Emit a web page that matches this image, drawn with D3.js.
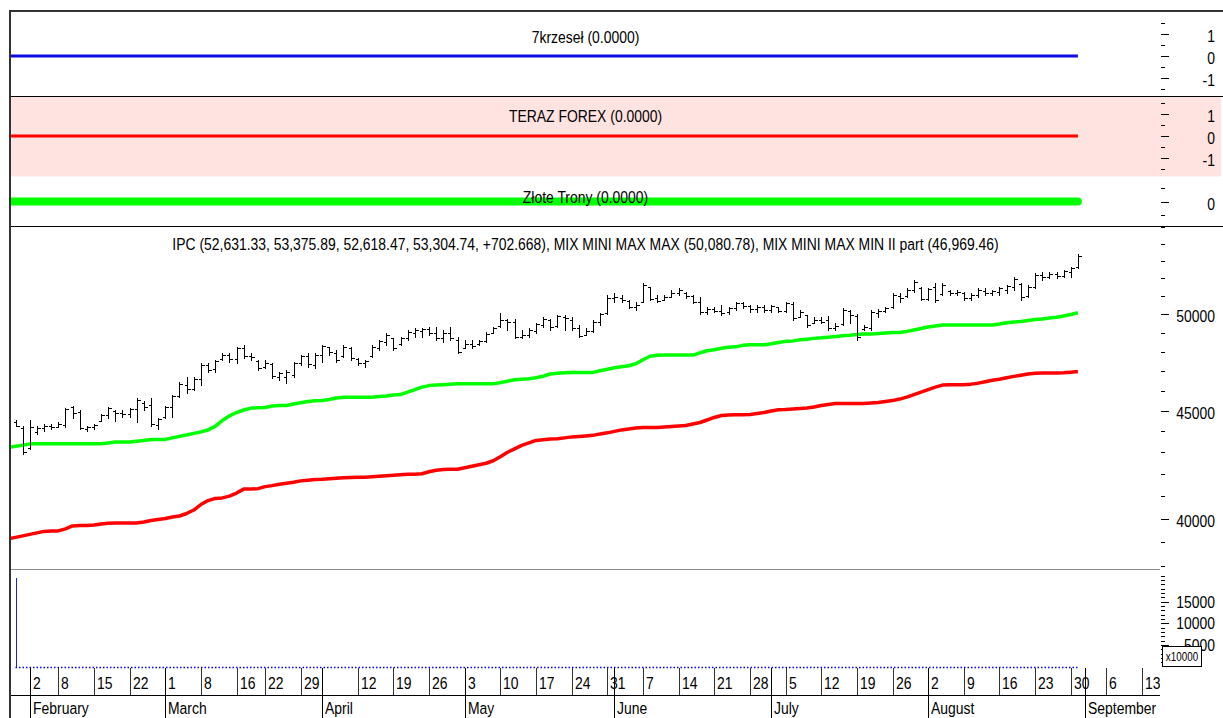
<!DOCTYPE html>
<html>
<head>
<meta charset="utf-8">
<title>IPC</title>
<script src="https://d3js.org/d3.v7.min.js"></script>
<style>
  body { margin: 0; background: #fff; }
  svg { display: block; }
</style>
</head>
<body>
<script>
// ---- data ----
const axisStart = "2021-01-25", axisEnd = "2021-09-14";
const holidays = ["2021-02-01", "2021-03-15", "2021-04-01", "2021-04-02"];
const unlabeledWeeks = ["2021-04-05"];
const firstBarDay = "2021-01-28";
const firstLineDay = "2021-01-27";

const opens = [
  44440, 44150, 43200, 43950, 44150, 44250, 44220, 44300, 45200, 44950,
  44100, 44200, 44500, 44800, 45000, 44900, 44850, 45100, 45400, 45300,
  44300, 44700, 45200, 45750, 46300, 46100, 46600, 47300, 47100, 47600,
  47850, 47600, 48200, 47800, 47500, 47200, 47350, 46700, 46700, 46800,
  47400, 47750, 47300, 47850, 48250, 47950, 47750, 48200, 47600, 47400,
  47800, 48200, 48500, 48700, 48400, 48700, 49000, 49100, 49200, 49000,
  48700, 49000, 48600, 48200, 48400, 48400, 48550, 49000, 49350, 49700,
  49600, 48800, 48900, 49100, 49400, 49700, 49350, 49850, 49700, 49250,
  48900, 49100, 49600, 50050, 50900, 50900, 50750, 50400, 50700, 51500,
  50900, 50800, 50950, 51200, 51200, 51000, 50700, 50150, 50300, 50200,
  50100, 50350, 50600, 50450, 50300, 50400, 50250, 50400, 50200, 50550,
  49850, 49950, 49550, 49700, 49700, 49250, 49450, 50200, 49900, 49200,
  49250, 50050, 50200, 50400, 51000, 51000, 51350, 51450, 50850, 51500,
  51100, 51300, 51150, 51150, 50900, 51050, 51300, 51150, 51250, 51350,
  51500, 51700, 51000, 51500, 52200, 52050, 52250, 52150, 52350, 52631.33
];
const highs = [
  44575, 44240, 44575, 44240, 44335, 44380, 44430, 45160, 45260, 45062,
  44240, 44335, 44820, 45210, 45062, 45062, 45160, 45650, 45460, 45650,
  44670, 45260, 45804, 46460, 46710, 46710, 47420, 47420, 47580, 47940,
  47940, 48250, 48360, 47940, 47580, 47580, 47420, 46960, 47065, 47480,
  47838, 47940, 47940, 48360, 48250, 48099, 48360, 48250, 47680, 47580,
  48360, 48624, 48990, 48730, 48780, 49155, 49260, 49260, 49310, 49310,
  49155, 49310, 48780, 48624, 48624, 48624, 49050, 49310, 50070, 49740,
  49740, 49155, 49260, 49530, 49850, 49740, 49960, 49960, 49850, 49420,
  49260, 49690, 50070, 51059, 51170, 51059, 50783, 50670, 51730, 51500,
  51059, 51059, 51337, 51450, 51230, 51059, 50950, 50400, 50400, 50508,
  50400, 50670, 50670, 50508, 50508, 50508, 50508, 50400, 50670, 50670,
  50234, 49962, 49850, 49850, 49900, 49530, 50340, 50234, 50020, 49420,
  50234, 50290, 50400, 51170, 51170, 51450, 51898, 51500, 51450, 51730,
  51730, 51337, 51337, 51230, 51170, 51450, 51450, 51337, 51500, 51617,
  52070, 51730, 51617, 52300, 52350, 52350, 52350, 52465, 52650, 53375.89
];
const lows = [
  44240, 42915, 43147, 43857, 44000, 44096, 44190, 44190, 44670, 44096,
  44000, 44096, 44480, 44670, 44480, 44720, 44720, 44430, 45062, 44240,
  44096, 44670, 44720, 45700, 45900, 46054, 46304, 46960, 46960, 47580,
  47480, 47420, 47680, 47580, 47065, 47170, 46660, 46556, 46400, 46710,
  47321, 47220, 47170, 47480, 47838, 47480, 47730, 47580, 47321, 47220,
  47730, 48099, 48360, 48099, 48360, 48624, 48780, 48780, 48888, 48624,
  48520, 48624, 47940, 48200, 48200, 48360, 48520, 48990, 49310, 49155,
  48730, 48730, 48780, 48990, 49310, 49155, 49310, 49155, 49155, 48780,
  48888, 49050, 49420, 50030, 50670, 50670, 50340, 50234, 50670, 50783,
  50670, 50783, 50950, 51059, 50890, 50620, 50030, 50030, 50120, 49962,
  50030, 50234, 50340, 50120, 50120, 50120, 50120, 50120, 50120, 49690,
  49850, 49310, 49530, 49530, 49155, 49155, 49420, 49530, 48624, 49155,
  49155, 49850, 50120, 50340, 50670, 50950, 51230, 50783, 50783, 50670,
  51059, 51059, 51059, 50783, 50783, 50950, 51059, 51059, 51059, 51170,
  51337, 50783, 50950, 51450, 51898, 52010, 52010, 52070, 52070, 52618.47
];
const closes = [
  44280, 43010, 44200, 44180, 44280, 44200, 44380, 45100, 44900, 44150,
  44200, 44300, 44780, 45150, 44900, 44850, 45100, 45550, 45200, 44350,
  44600, 45200, 45750, 46350, 46100, 46600, 47300, 47050, 47500, 47850,
  47600, 48200, 47800, 47700, 47150, 47400, 46750, 46900, 46950, 47400,
  47750, 47350, 47850, 48300, 48000, 47550, 48250, 47650, 47400, 47500,
  48250, 48550, 48900, 48200, 48700, 49050, 49150, 49200, 49000, 48700,
  49000, 48700, 48000, 48400, 48300, 48550, 48950, 49250, 49700, 49600,
  48800, 48900, 49150, 49450, 49750, 49300, 49900, 49800, 49250, 48850,
  49100, 49600, 50000, 50900, 50950, 50800, 50400, 50500, 51600, 50850,
  50750, 50950, 51200, 51350, 51000, 50700, 50150, 50300, 50200, 50050,
  50350, 50600, 50450, 50300, 50400, 50250, 50450, 50200, 50600, 49800,
  50100, 49400, 49700, 49600, 49250, 49350, 50250, 49950, 48750, 49300,
  50150, 50200, 50350, 51050, 50900, 51350, 51800, 50850, 51400, 50800,
  51650, 51150, 51250, 50900, 51050, 51350, 51150, 51300, 51450, 51550,
  51950, 50950, 51500, 52200, 52050, 52250, 52150, 52400, 52602.072, 53304.74
];

// MIX MINI MAX MAX (green) and MIX MINI MAX MIN II part (red), from firstLineDay
const mixMax = [
  43240,
  43288, 43335, 43405, 43415, 43415, 43415, 43415, 43415, 43415, 43415,
  43415, 43415, 43415, 43450, 43490, 43490, 43490, 43530, 43570, 43617,
  43617, 43617, 43690, 43760, 43830, 43905, 43975, 44070, 44240, 44525,
  44750, 44915, 45040, 45135, 45145, 45160, 45235, 45260, 45260, 45335,
  45395, 45455, 45495, 45505, 45555, 45630, 45670, 45670, 45670, 45670,
  45670, 45705, 45730, 45780, 45804, 45930, 46054, 46180, 46255, 46280,
  46304, 46330, 46355, 46355, 46355, 46355, 46355, 46355, 46405, 46480,
  46556, 46580, 46605, 46657, 46733, 46846, 46886, 46912, 46928, 46928,
  46928, 46928, 47015, 47090, 47167, 47218, 47270, 47372, 47579, 47760,
  47812, 47822, 47822, 47822, 47822, 47822, 47940, 48047, 48099, 48177,
  48230, 48255, 48334, 48360, 48360, 48360, 48413, 48480, 48545, 48570,
  48624, 48660, 48703, 48730, 48766, 48808, 48845, 48870, 48915, 48940,
  48940, 48968, 48995, 49010, 49020, 49075, 49155, 49235, 49315, 49370,
  49422, 49422, 49422, 49422, 49422, 49422, 49422, 49422, 49475, 49545,
  49583, 49610, 49664, 49718, 49745, 49800, 49838, 49908, 49990, 50080.78
];
const mixMin = [
  39129,
  39193, 39257, 39320, 39385, 39450, 39470, 39470, 39557, 39685, 39700,
  39700, 39730, 39772, 39800, 39815, 39815, 39815, 39815, 39858, 39922,
  39966, 40010, 40075, 40118, 40228, 40381, 40622, 40800, 40897, 40919,
  41000, 41134, 41313, 41313, 41335, 41425, 41470, 41537, 41582, 41628,
  41686, 41718, 41750, 41764, 41787, 41810, 41832, 41841, 41855, 41855,
  41878, 41900, 41923, 41946, 41968, 41991, 41991, 42014, 42105, 42174,
  42206, 42220, 42220, 42289, 42358, 42427, 42496, 42612, 42798, 43008,
  43170, 43335, 43453, 43570, 43603, 43632, 43650, 43690, 43737, 43760,
  43785, 43810, 43880, 43930, 44000, 44072, 44120, 44168, 44192, 44192,
  44192, 44216, 44240, 44264, 44287, 44360, 44430, 44550, 44675, 44770,
  44795, 44805, 44805, 44820, 44868, 44918, 44990, 45050, 45062, 45087,
  45112, 45135, 45185, 45260, 45309, 45358, 45358, 45358, 45358, 45358,
  45380, 45407, 45455, 45505, 45580, 45680, 45804, 45930, 46054, 46180,
  46280, 46304, 46304, 46304, 46330, 46380, 46455, 46530, 46580, 46657,
  46723, 46785, 46846, 46886, 46897, 46897, 46897, 46912, 46937, 46969.46
];

// volume (x10000), one value per bar
const volume = [
  20500, 0, 0, 0, 0, 0, 0, 0, 0, 0,
  0, 0, 0, 0, 0, 0, 0, 0, 0, 0,
  0, 0, 0, 0, 0, 0, 0, 0, 0, 0,
  0, 0, 0, 0, 0, 0, 0, 0, 0, 0,
  0, 0, 0, 0, 0, 0, 0, 0, 0, 0,
  0, 0, 0, 0, 0, 0, 0, 0, 0, 0,
  0, 0, 0, 0, 0, 0, 0, 0, 0, 0,
  0, 0, 0, 0, 0, 0, 0, 0, 0, 0,
  0, 0, 0, 0, 0, 0, 0, 0, 0, 0,
  0, 0, 0, 0, 0, 0, 0, 0, 0, 0,
  0, 0, 0, 0, 0, 0, 0, 0, 0, 0,
  0, 0, 0, 0, 0, 0, 0, 0, 0, 0,
  0, 0, 0, 0, 0, 0, 0, 0, 0, 0,
  0, 0, 0, 0, 0, 0, 0, 0, 0, 0,
  0, 0, 0, 0, 0, 0, 0, 0, 0, 0
];

// indicator panels: start/end of each flat line and its values
const indicatorDays = ["2021-01-27", "2021-08-31"];
const krzesel = [0, 0];
const terazForex = [0, 0];
const zloteTrony = [0, 0];

const priceTicks = [38000, 39000, 40000, 41000, 42000, 43000, 44000, 45000, 46000,
                    47000, 48000, 49000, 50000, 51000, 52000, 53000, 54000, 55000];
const priceLabels = [40000, 45000, 50000];
const volumeTicks = [1000, 2000, 3000, 4000, 5000, 6000, 7000, 8000, 9000, 10000, 11000,
                     12000, 13000, 14000, 15000, 16000, 17000, 18000, 19000, 20000, 21000];
const volumeLabels = [5000, 10000, 15000];
const panelTicks = [-1.5, -1, -0.5, 0, 0.5, 1, 1.5];
const panelLabels = [-1, 0, 1];
const panel3Ticks = [-0.5, 0, 0.5];
const panel3Labels = [0];

// ---- layout ----
const width = 1223, height = 718;
const plotLeft = 11, plotRight = 1160;
const labelRight = 1215;

const svg = d3.select("body").append("svg")
  .attr("width", width)
  .attr("height", height);

// narrow font (Arial Narrow look) if installed, else horizontally scaled Liberation Sans
const ctx = document.createElement("canvas").getContext("2d");
ctx.font = "100px 'Liberation Sans Narrow', 'DejaVu Sans'";
const narrowW = ctx.measureText("0000000000").width;
const hasNarrow = narrowW > 1000 && narrowW < 5000;
const fontFamily = hasNarrow ? "'Liberation Sans Narrow'" : "'Liberation Sans', Arial, sans-serif";
const sx = hasNarrow ? 1 : 0.82;

function label(g, x, y, str, anchor, size) {
  return g.append("text")
    .attr("transform", `translate(${x},${y}) scale(${sx},1)`)
    .attr("text-anchor", anchor || "start")
    .style("font-family", fontFamily)
    .style("font-size", (size || 17) + "px")
    .attr("fill", "#000")
    .text(str);
}

const defs = svg.append("defs");
defs.append("clipPath").attr("id", "plotClip")
  .append("rect").attr("x", plotLeft).attr("y", 0).attr("width", plotRight - plotLeft).attr("height", height);

// trading calendar
const fmt = d3.utcFormat("%Y-%m-%d");
const parse = d3.utcParse("%Y-%m-%d");
const holidaySet = new Set(holidays);
const tradingDays = d3.utcDays(parse(axisStart), d3.utcDay.offset(parse(axisEnd), 1))
  .filter(d => d.getUTCDay() !== 0 && d.getUTCDay() !== 6 && !holidaySet.has(fmt(d)));
const dayIndex = new Map(tradingDays.map((d, i) => [fmt(d), i]));
const barStart = dayIndex.get(firstBarDay);
const lineStart = dayIndex.get(firstLineDay);

const x = d3.scaleLinear()
  .domain([barStart, barStart + 149])
  .range([15.5, 1077.9]);

// ---- frame and panel backgrounds ----
svg.append("rect").attr("x", plotLeft).attr("y", 97).attr("width", 1210).attr("height", 79.5)
  .attr("fill", "#ffe3e0");

const frame = svg.append("g").attr("shape-rendering", "crispEdges");
frame.append("line").attr("x1", 9).attr("x2", width).attr("y1", 11).attr("y2", 11)
  .attr("stroke", "#333").attr("stroke-width", 2);
frame.append("line").attr("x1", 10).attr("x2", 10).attr("y1", 10).attr("y2", height)
  .attr("stroke", "#333").attr("stroke-width", 2);
frame.append("line").attr("x1", plotLeft).attr("x2", width).attr("y1", 96.5).attr("y2", 96.5)
  .attr("stroke", "#000");
frame.append("line").attr("x1", plotLeft).attr("x2", width).attr("y1", 226.5).attr("y2", 226.5)
  .attr("stroke", "#000");
frame.append("line").attr("x1", plotLeft).attr("x2", plotRight).attr("y1", 569.5).attr("y2", 569.5)
  .attr("stroke", "#8a8a8a");
frame.append("line").attr("x1", plotLeft).attr("x2", plotRight).attr("y1", 695.5).attr("y2", 695.5)
  .attr("stroke", "#000");

// right-hand tick helper
function rightAxis(scale, ticks, labels, fmtLabel, dy) {
  const g = svg.append("g");
  g.selectAll("line").data(ticks).join("line")
    .attr("shape-rendering", "crispEdges")
    .attr("x1", 1161).attr("x2", d => labels.includes(d) ? 1169 : 1165)
    .attr("y1", d => Math.round(scale(d)) + 0.5).attr("y2", d => Math.round(scale(d)) + 0.5)
    .attr("stroke", "#000").attr("stroke-width", d => labels.includes(d) ? 1.5 : 1);
  labels.forEach(v => label(g, labelRight, scale(v) + (dy || 8), fmtLabel(v), "end", 17));
  return g;
}

// ---- indicator panels ----
const p1 = d3.scaleLinear().domain([-1, 1]).range([78, 34]);
const p2 = d3.scaleLinear().domain([-1, 1]).range([158, 114]);
const p3 = d3.scaleLinear().domain([-1, 1]).range([228.5, 174.5]);
const f4 = d3.format(".4f");

function flatLine(scale, values, color, w, cap) {
  const pts = indicatorDays.map((d, i) => [x(dayIndex.get(d)), scale(values[i])]);
  svg.append("path")
    .attr("clip-path", "url(#plotClip)")
    .attr("d", d3.line()(pts))
    .attr("fill", "none").attr("stroke", color).attr("stroke-width", w)
    .attr("stroke-linecap", cap || "butt");
}

flatLine(p1, krzesel, "#0b0be8", 3);
flatLine(p2, terazForex, "#ff0000", 3);
flatLine(p3, zloteTrony, "#00ff00", 8, "round");

const titles = svg.append("g");
const midX = (plotLeft + plotRight) / 2;
label(titles, midX, 43, `7krzeseł (${f4(krzesel[krzesel.length - 1])})`, "middle", 17);
label(titles, midX, 122, `TERAZ FOREX (${f4(terazForex[terazForex.length - 1])})`, "middle", 17);
label(titles, midX, 203, `Złote Trony (${f4(zloteTrony[zloteTrony.length - 1])})`, "middle", 17);

rightAxis(p1, panelTicks, panelLabels, d => String(d));
rightAxis(p2, panelTicks, panelLabels, d => String(d));
rightAxis(p3, panel3Ticks, panel3Labels, d => String(d));

// ---- main price panel ----
const y = d3.scaleLog().domain([40000, 50000]).range([518.7, 314.3]);

const main = svg.append("g").attr("clip-path", "url(#plotClip)");

const lineGen = d3.line()
  .x((d, i) => x(lineStart + i))
  .y(d => y(d));

main.append("path").attr("d", lineGen(mixMin))
  .attr("fill", "none").attr("stroke", "#ff0000").attr("stroke-width", 3.5)
  .attr("stroke-linejoin", "round");
main.append("path").attr("d", lineGen(mixMax))
  .attr("fill", "none").attr("stroke", "#00ff00").attr("stroke-width", 3.5)
  .attr("stroke-linejoin", "round");

const bars = main.append("g").attr("stroke", "#000").attr("stroke-width", 1)
  .attr("shape-rendering", "crispEdges");
opens.forEach((o, i) => {
  const cx = Math.round(x(barStart + i)) + 0.5;
  const hy = Math.round(y(highs[i])), ly = Math.round(y(lows[i]));
  const oy = Math.round(y(o)) + 0.5, cy = Math.round(y(closes[i])) + 0.5;
  bars.append("line").attr("x1", cx).attr("x2", cx).attr("y1", hy).attr("y2", ly + 1);
  bars.append("line").attr("x1", cx - 3).attr("x2", cx).attr("y1", oy).attr("y2", oy);
  bars.append("line").attr("x1", cx).attr("x2", cx + 3).attr("y1", cy).attr("y2", cy);
});

const f2 = d3.format(",.2f");
const last = opens.length - 1;
const change = closes[last] - closes[last - 1];
label(svg, midX, 250,
  `IPC (${f2(opens[last])}, ${f2(highs[last])}, ${f2(lows[last])}, ${f2(closes[last])}, ` +
  `${d3.format("+.3f")(change)}), MIX MINI MAX MAX (${f2(mixMax[mixMax.length - 1])}), ` +
  `MIX MINI MAX MIN II part (${f2(mixMin[mixMin.length - 1])})`, "middle", 17);

rightAxis(y, priceTicks, priceLabels, d => String(d));

// ---- volume panel ----
const yv = d3.scaleLinear().domain([0, 15000]).range([666.7, 601.7]);
const vol = svg.append("g").attr("clip-path", "url(#plotClip)");
vol.append("line")
  .attr("x1", x(barStart)).attr("x2", x(barStart + volume.length - 1))
  .attr("y1", 667.5).attr("y2", 667.5)
  .attr("stroke", "#0000ff").attr("stroke-width", 1.5).attr("stroke-dasharray", "1.5,2");
vol.selectAll("line.vbar").data(volume.map((v, i) => [i, v]).filter(d => d[1] > 0)).join("line")
  .attr("class", "vbar")
  .attr("shape-rendering", "crispEdges")
  .attr("x1", d => Math.round(x(barStart + d[0])) + 0.5).attr("x2", d => Math.round(x(barStart + d[0])) + 0.5)
  .attr("y1", yv(0)).attr("y2", d => yv(d[1]))
  .attr("stroke", "#2020e0").attr("stroke-width", 1);

rightAxis(yv, volumeTicks, volumeLabels, d => String(d), 6);
svg.append("rect").attr("x", 1162.5).attr("y", 646.5).attr("width", 39).attr("height", 20)
  .attr("fill", "#fff").attr("stroke", "#000").attr("shape-rendering", "crispEdges");
label(svg, 1182, 661, "x10000", "middle", 12);

// ---- date axis ----
const axis = svg.append("g").attr("clip-path", "url(#plotClip)");
const weekStarts = tradingDays.map((d, i) => i)
  .filter(i => i === 0 || +d3.utcMonday.floor(tradingDays[i]) !== +d3.utcMonday.floor(tradingDays[i - 1]))
  .filter(i => x(i) >= plotLeft);
const monthStarts = tradingDays.map((d, i) => i)
  .filter(i => i > 0 && tradingDays[i].getUTCMonth() !== tradingDays[i - 1].getUTCMonth());

weekStarts.forEach(i => {
  const px = Math.round(x(i)) + 0.5;
  axis.append("line").attr("x1", px).attr("x2", px).attr("y1", 668).attr("y2", 695)
    .attr("stroke", "#333").attr("shape-rendering", "crispEdges");
  if (!unlabeledWeeks.includes(fmt(tradingDays[i])))
    label(axis, px + 2.5, 689, d3.utcFormat("%-d")(tradingDays[i]), "start", 17);
});
monthStarts.forEach(i => {
  const px = Math.round(x(i)) + 0.5;
  axis.append("line").attr("x1", px).attr("x2", px).attr("y1", 668).attr("y2", height)
    .attr("stroke", "#000").attr("shape-rendering", "crispEdges");
  label(axis, px + 2.5, 714, d3.utcFormat("%B")(tradingDays[i]), "start", 17);
});
</script>
</body>
</html>
